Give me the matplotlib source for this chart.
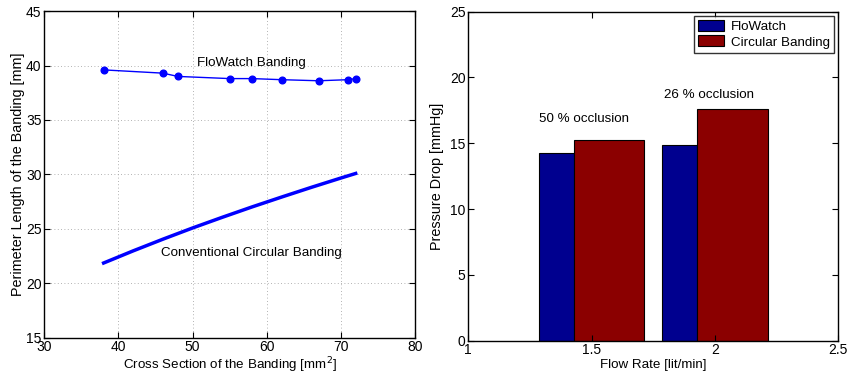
import matplotlib
matplotlib.use("Agg")
import matplotlib.pyplot as plt

plt.rcParams['font.family'] = ['Liberation Sans', 'DejaVu Sans']
plt.rcParams['font.size'] = 9.6

# left panel: perimeter vs cross section
flow_x = [38, 46, 48, 55, 58, 62, 67, 71, 72]
flow_y = [39.6, 39.3, 39.0, 38.8, 38.8, 38.7, 38.6, 38.7, 38.8]
circ_x = [38, 42, 46, 50, 54, 58, 62, 66, 70, 72]
circ_y = [21.85, 22.97, 24.04, 25.07, 26.05, 27.0, 27.91, 28.8, 29.66, 30.08]

# right panel: pressure drop
flow_rate = [1.5, 2.0]
dp_flowatch = [14.25, 14.88]
dp_circular = [15.26, 17.6]
occlusion = ['50 % occlusion', '26 % occlusion']

fig = plt.figure(figsize=(8.49, 3.84), dpi=100)

ax1 = fig.add_axes([0.0522, 0.121, 0.4366, 0.850])
ax1.plot(flow_x, flow_y, '-o', color='#0000ff', lw=1, ms=4.8)
ax1.plot(circ_x, circ_y, '-', color='#0000ff', lw=2.5)
ax1.text(50.6, 40.2, 'FloWatch Banding', va='center', ha='left')
ax1.text(45.8, 22.76, 'Conventional Circular Banding', va='center', ha='left')
ax1.set_xlim(30, 80)
ax1.set_ylim(15, 45)
ax1.set_xticks(range(30, 81, 10))
ax1.set_yticks(range(15, 46, 5))
ax1.grid(True, linestyle=(0, (1, 3)), color='#999999', lw=0.6)
ax1.set_xlabel('Cross Section of the Banding [mm$^2$]', labelpad=1)
ax1.set_ylabel('Perimeter Length of the Banding [mm]', labelpad=1, fontsize=10.4)

ax2 = fig.add_axes([0.5516, 0.1128, 0.4355, 0.857])
blue_w = 0.143
red_w = 0.286
bx = [x - 0.2145 for x in flow_rate]
rx = [x - 0.0715 for x in flow_rate]
ax2.bar(bx, dp_flowatch, width=blue_w, align='edge', color='#00008f',
        edgecolor='black', lw=0.8, label='FloWatch')
ax2.bar(rx, dp_circular, width=red_w, align='edge', color='#8b0000',
        edgecolor='black', lw=0.8, label='Circular Banding')
ax2.text(1.285, 16.86, occlusion[0], va='center', ha='left')
ax2.text(1.795, 18.68, occlusion[1], va='center', ha='left')
ax2.set_xlim(1, 2.5)
ax2.set_ylim(0, 25)
ax2.set_xticks([1, 1.5, 2, 2.5])
ax2.set_xticklabels(['1', '1.5', '2', '2.5'])
ax2.set_yticks(range(0, 26, 5))
ax2.set_xlabel('Flow Rate [lit/min]', labelpad=1)
ax2.set_ylabel('Pressure Drop [mmHg]', labelpad=4, fontsize=10.4)
leg = ax2.legend(loc='upper right', fancybox=False, edgecolor='black',
                 borderaxespad=0.3, handlelength=2.0, handleheight=0.9,
                 borderpad=0.3, labelspacing=0.2, handletextpad=0.5)
leg.get_frame().set_linewidth(1.0)

for ax in (ax1, ax2):
    ax.tick_params(direction='in', top=True, right=True, length=4, pad=2,
                   labelsize=10)
    for s in ax.spines.values():
        s.set_linewidth(1.0)

fig.savefig('out.png', dpi=100)
